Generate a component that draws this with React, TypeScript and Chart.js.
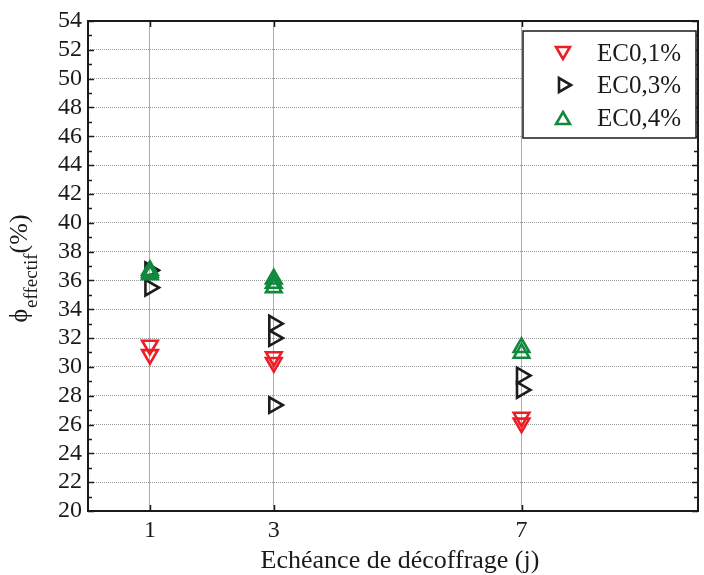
import React, { useEffect, useRef } from 'react';
import { Chart, registerables } from 'chart.js';

Chart.register(...registerables);

// ---- data ----
const seriesLabels = ['EC0,1%', 'EC0,3%', 'EC0,4%'];
const seriesColors = ['#ee1c24', '#1c1c1c', '#10893c'];
const seriesRotations = [180, 90, 0];

const ec01X = [1, 1, 3, 3, 7, 7];
const ec01Y = [31.5, 30.85, 30.7, 30.3, 26.5, 26.1];
const ec03X = [1, 1, 3, 3, 3, 7, 7];
const ec03Y = [36.7, 35.5, 33.0, 32.0, 27.35, 29.4, 28.4];
const ec04X = [1, 1, 1, 3, 3, 3, 7, 7];
const ec04Y = [36.7, 36.55, 36.4, 36.1, 35.8, 35.5, 31.35, 30.95];

const xTickValues = [1, 3, 7];
const xMin = 0;
const xMax = 9.85;
const yMin = 20;
const yMax = 54;
const xTitle = 'Echéance de décoffrage (j)';
const yTitleMain = 'ϕ';
const yTitleSub = 'effectif';
const yTitleUnit = '(%)';

const FONT = '"Liberation Serif", "Times New Roman", serif';

function toPoints(xs: number[], ys: number[]) {
  return xs.map((x, i) => ({ x, y: ys[i] }));
}

function drawTriangle(ctx: CanvasRenderingContext2D, x: number, y: number, r: number, rotDeg: number) {
  let rad = (rotDeg * Math.PI) / 180;
  ctx.beginPath();
  ctx.moveTo(x + Math.sin(rad) * r, y - Math.cos(rad) * r);
  rad += (2 * Math.PI) / 3;
  ctx.lineTo(x + Math.sin(rad) * r, y - Math.cos(rad) * r);
  rad += (2 * Math.PI) / 3;
  ctx.lineTo(x + Math.sin(rad) * r, y - Math.cos(rad) * r);
  ctx.closePath();
  ctx.stroke();
}

const decorPlugin = {
  id: 'decor',
  afterDraw(chart: any) {
    const ctx: CanvasRenderingContext2D = chart.ctx;
    const { left, right, top, bottom } = chart.chartArea;
    const ys = chart.scales.y;
    const xs = chart.scales.x;
    ctx.save();
    // frame
    ctx.strokeStyle = '#1a1a1a';
    ctx.lineWidth = 2;
    ctx.strokeRect(left, top, right - left, bottom - top);
    // y tick marks (inside)
    ctx.lineWidth = 1.5;
    for (let v = yMin; v <= yMax; v++) {
      const py = Math.round(ys.getPixelForValue(v)) + 0.5;
      const len = v % 2 === 0 ? 6 : 4;
      ctx.beginPath();
      ctx.moveTo(left, py);
      ctx.lineTo(left + len, py);
      ctx.moveTo(right, py);
      ctx.lineTo(right - len, py);
      ctx.stroke();
    }
    // x tick marks (inside)
    for (const v of xTickValues) {
      const px = Math.round(xs.getPixelForValue(v)) + 0.5;
      ctx.beginPath();
      ctx.moveTo(px, bottom);
      ctx.lineTo(px, bottom - 6);
      ctx.moveTo(px, top);
      ctx.lineTo(px, top + 6);
      ctx.stroke();
    }
    // x title
    ctx.fillStyle = '#1a1a1a';
    ctx.font = `26px ${FONT}`;
    ctx.textAlign = 'center';
    ctx.textBaseline = 'alphabetic';
    ctx.fillText(xTitle, 400, 568);
    // y title (rotated, with subscript)
    ctx.save();
    ctx.translate(27, 269);
    ctx.rotate(-Math.PI / 2);
    ctx.textAlign = 'left';
    ctx.font = `26px ${FONT}`;
    const w1 = ctx.measureText(yTitleMain).width;
    const w3 = ctx.measureText(yTitleUnit).width;
    ctx.font = `19px ${FONT}`;
    const w2 = ctx.measureText(yTitleSub).width;
    let tx = -(w1 + w2 + w3) / 2;
    ctx.font = `26px ${FONT}`;
    ctx.fillText(yTitleMain, tx, 0);
    tx += w1 + 1;
    ctx.font = `19px ${FONT}`;
    ctx.fillText(yTitleSub, tx, 10);
    tx += w2;
    ctx.font = `26px ${FONT}`;
    ctx.fillText(yTitleUnit, tx, 0);
    ctx.restore();
    // legend box
    const lx = 523, ly = 31, lw = 173, lh = 107;
    ctx.fillStyle = '#ffffff';
    ctx.fillRect(lx, ly, lw, lh);
    ctx.strokeStyle = '#1a1a1a';
    ctx.lineWidth = 1.5;
    ctx.strokeRect(lx, ly, lw, lh);
    const rows = [53, 85, 118];
    seriesLabels.forEach((label, i) => {
      ctx.strokeStyle = seriesColors[i];
      ctx.lineWidth = 2.6;
      const rot = seriesRotations[i];
      const cyOff = rot === 180 ? -2 : rot === 0 ? 2 : 0;
      drawTriangle(ctx, 563, rows[i] + cyOff, 8, rot);
      ctx.fillStyle = '#1a1a1a';
      ctx.font = `25px ${FONT}`;
      ctx.textAlign = 'left';
      ctx.textBaseline = 'middle';
      ctx.fillText(label, 597, rows[i] + 1);
    });
    ctx.restore();
  },
};

export default function App() {
  const canvasRef = useRef<HTMLCanvasElement | null>(null);

  useEffect(() => {
    document.body.style.margin = '0';
    const canvas = canvasRef.current;
    if (!canvas) return;
    const xsData = [ec01X, ec03X, ec04X];
    const ysData = [ec01Y, ec03Y, ec04Y];
    const orders = [3, 2, 1];
    const chart = new Chart(canvas, {
      type: 'scatter',
      data: {
        datasets: seriesLabels.map((label, i) => ({
          label,
          data: toPoints(xsData[i], ysData[i]),
          pointStyle: 'triangle',
          rotation: seriesRotations[i],
          pointRadius: 9,
          pointHoverRadius: 9,
          borderColor: seriesColors[i],
          backgroundColor: 'rgba(0,0,0,0)',
          pointBorderWidth: 2.6,
          borderWidth: 2.6,
          showLine: false,
          order: orders[i],
        })),
      },
      plugins: [decorPlugin],
      options: {
        responsive: false,
        animation: false,
        events: [],
        layout: { autoPadding: false, padding: { top: 21, right: 6, left: 0, bottom: 0 } },
        plugins: {
          legend: { display: false },
          tooltip: { enabled: false },
          title: { display: false },
        },
        scales: {
          x: {
            type: 'linear',
            min: xMin,
            max: xMax,
            afterBuildTicks: (scale: any) => {
              scale.ticks = xTickValues.map((v) => ({ value: v }));
            },
            afterFit: (scale: any) => {
              scale.height = 64;
              scale.paddingLeft = 0;
              scale.paddingRight = 0;
            },
            grid: {
              display: true,
              drawTicks: false,
              color: '#ababab',
              lineWidth: 1,
            },
            border: { display: false },
            ticks: {
              autoSkip: false,
              maxRotation: 0,
              padding: 5,
              color: '#1a1a1a',
              font: { family: FONT, size: 24 },
              callback: (v: any) => String(v),
            },
          },
          y: {
            type: 'linear',
            min: yMin,
            max: yMax,
            afterFit: (scale: any) => {
              scale.width = 88;
            },
            grid: {
              display: true,
              drawTicks: false,
              color: (c: any) => {
                const v = c.tick && c.tick.value;
                return v % 2 === 0 ? '#9a9a9a' : 'rgba(0,0,0,0)';
              },
              lineWidth: 1,
            },
            border: { display: false, dash: [1, 1] },
            ticks: {
              stepSize: 1,
              autoSkip: false,
              padding: 6,
              color: '#1a1a1a',
              font: { family: FONT, size: 24 },
              callback: (v: any) => (Number(v) % 2 === 0 ? String(v) : ''),
            },
          },
        },
      } as any,
    });
    return () => chart.destroy();
  }, []);

  return (
    <div style={{ width: 704, height: 575 }}>
      <canvas ref={canvasRef} width={704} height={575} />
    </div>
  );
}
